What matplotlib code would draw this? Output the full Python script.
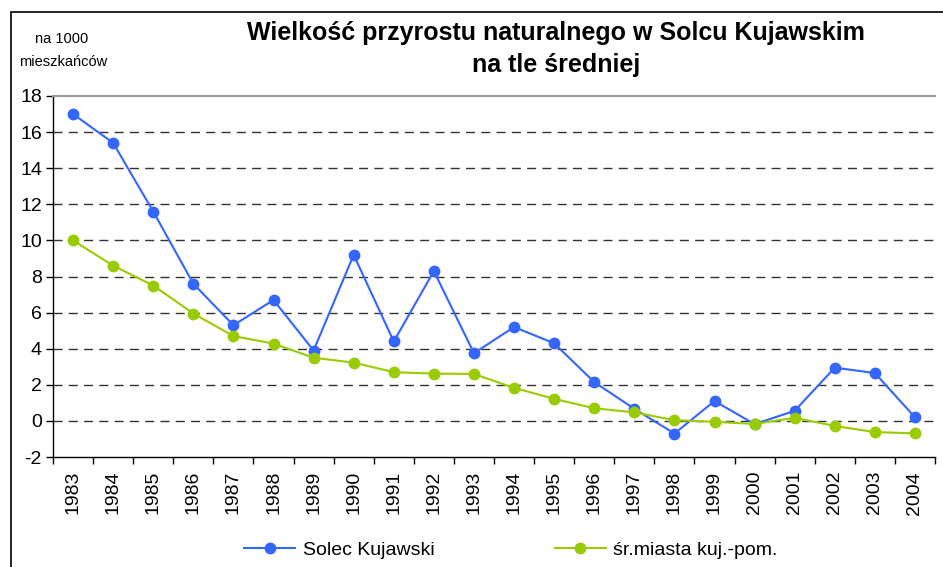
import numpy as np
import matplotlib
matplotlib.use("Agg")
import matplotlib.pyplot as plt
from matplotlib.patches import Rectangle

plt.rcParams["font.family"] = ["Liberation Sans", "DejaVu Sans"]
plt.rcParams["axes.unicode_minus"] = False

# dane
lata = [str(r) for r in range(1983, 2005)]
solec = [17.0, 15.4, 11.6, 7.6, 5.3, 6.7, 3.9, 9.2, 4.4, 8.3, 3.75,
         5.2, 4.3, 2.15, 0.67, -0.7, 1.1, -0.18, 0.56, 2.95, 2.65, 0.2]
srednia = [10.0, 8.6, 7.5, 5.95, 4.7, 4.28, 3.5, 3.23, 2.7, 2.62, 2.6,
           1.83, 1.22, 0.7, 0.47, 0.04, -0.05, -0.17, 0.17, -0.28, -0.62, -0.69]
y_ticks = list(range(-2, 19, 2))

kolor_solec = "#3366FF"
kolor_sr = "#99CC00"

fig = plt.figure(figsize=(9.43, 5.67), dpi=100)

# ramka wokół wykresu
fig.patches.append(Rectangle((11 / 943, -0.1), 1.1, 1 - 12 / 567 + 0.1,
                             transform=fig.transFigure, fill=False,
                             edgecolor="black", linewidth=1.2))

ax = fig.add_axes([53 / 943, 1 - 457 / 567, 882 / 943, 361 / 567])
x = np.arange(len(lata))

# siatka
for v in y_ticks[1:-1]:
    ax.axhline(v, color="#333333", linewidth=1.0, dashes=(6.5, 4.5), zorder=1)

ax.plot(x, solec, color=kolor_solec, linewidth=1.5, marker="o",
        markersize=7.5, zorder=3, label="Solec Kujawski")
ax.plot(x, srednia, color=kolor_sr, linewidth=1.5, marker="o",
        markersize=7.5, zorder=3, label="śr.miasta kuj.-pom.")

ax.set_xlim(-0.5, len(lata) - 0.5)
ax.set_ylim(-2, 18)
ax.set_yticks(y_ticks)
ax.set_xticks(x)
ax.set_xticklabels(lata, rotation=90, fontsize=14)
ax.set_xticks(np.arange(-0.5, len(lata), 1), minor=True)
ax.tick_params(axis="x", which="major", length=0, pad=10)
ax.tick_params(axis="x", which="minor", length=5, direction="out", width=1)
ax.tick_params(axis="y", length=5, direction="out", width=1, labelsize=14, pad=3)

ax.spines["right"].set_visible(False)
ax.spines["top"].set_color("#999999")
ax.spines["top"].set_linewidth(1.5)
ax.spines["left"].set_linewidth(1.0)
ax.spines["bottom"].set_linewidth(1.0)

fig.text(556 / 943, 1 - 33 / 567, "Wielkość przyrostu naturalnego w Solcu Kujawskim",
         ha="center", va="center", fontsize=18, fontweight="bold")
fig.text(556 / 943, 1 - 65 / 567, "na tle średniej",
         ha="center", va="center", fontsize=18, fontweight="bold")
fig.text(62 / 943, 1 - 39 / 567, "na 1000", ha="center", va="center", fontsize=10.5)
fig.text(63 / 943, 1 - 62 / 567, "mieszkańców", ha="center", va="center", fontsize=10.5)

fig.legend(loc="center", bbox_to_anchor=(511 / 943, 1 - 550 / 567), ncol=2,
           frameon=False, fontsize=14, handlelength=2.6, columnspacing=6.2,
           handletextpad=0.4)

fig.savefig("out.png", dpi=100)
